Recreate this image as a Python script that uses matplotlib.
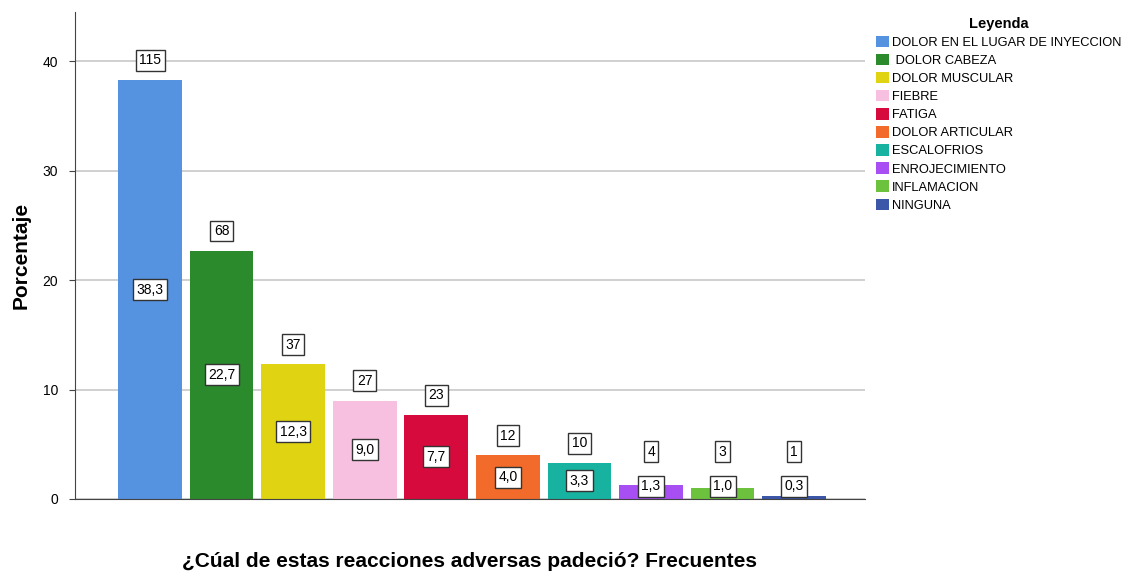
import matplotlib.pyplot as plt

plt.rcParams['font.family'] = ['Liberation Sans', 'DejaVu Sans']

categories = ['DOLOR EN EL LUGAR DE INYECCION', ' DOLOR CABEZA', 'DOLOR MUSCULAR',
              'FIEBRE', 'FATIGA', 'DOLOR ARTICULAR', 'ESCALOFRIOS',
              'ENROJECIMIENTO', 'INFLAMACION', 'NINGUNA']
counts = [115, 68, 37, 27, 23, 12, 10, 4, 3, 1]
percents = [38.3, 22.7, 12.3, 9.0, 7.7, 4.0, 3.3, 1.3, 1.0, 0.3]
colors = ['#5592e0', '#2b8a2b', '#e0d412', '#f8c0e0', '#d60a3c',
          '#f26b2a', '#18b3a0', '#a74ff2', '#6cc13d', '#3c57a8']
yticks = [0, 10, 20, 30, 40]

fig = plt.figure(figsize=(11.27, 5.74), dpi=100)
ax = fig.add_axes([0.0665, 0.1307, 0.701, 0.848])

x = list(range(len(categories)))
bars = ax.bar(x, percents, width=0.89, color=colors, label=categories, zorder=2)

ax.set_xlim(-1.05, 9.99)
ax.set_ylim(0, 44.5)
ax.set_yticks(yticks)
ax.set_yticklabels([str(t) for t in yticks], fontsize=10)
ax.set_xticks([])
ax.yaxis.grid(True, color='#c8c8c8', linewidth=1.2, zorder=0)
for s in ['top', 'right']:
    ax.spines[s].set_visible(False)
ax.spines['left'].set_color('#444444')
ax.spines['bottom'].set_color('#444444')
ax.tick_params(axis='y', length=4, color='#444444', pad=8)

box = dict(boxstyle='square,pad=0.25', facecolor='white', edgecolor='#333333', linewidth=1)
for xi, c, p in zip(x, counts, percents):
    ax.text(xi, max(p / 2, 1.15), f'{p:.1f}'.replace('.', ','), ha='center', va='center',
            fontsize=10, bbox=box, zorder=4)
    ax.text(xi, max(p + 1.8, 4.3), str(c), ha='center', va='center',
            fontsize=10, bbox=box, zorder=4)

ax.set_ylabel('Porcentaje', fontsize=15, fontweight='bold', labelpad=9)
fig.text(0.417, 0.006, '¿Cúal de estas reacciones adversas padeció? Frecuentes',
         ha='center', va='bottom', fontsize=15, fontweight='bold')

leg = fig.legend(handles=bars, labels=categories, loc='upper left',
                 bbox_to_anchor=(0.773, 0.98), frameon=False, fontsize=9.3,
                 title='Leyenda', title_fontproperties={'weight': 'bold', 'size': 10.5},
                 handlelength=1.0, handleheight=1.0, handletextpad=0.2,
                 labelspacing=0.38, borderaxespad=0)

fig.savefig('out.png', dpi=100)
